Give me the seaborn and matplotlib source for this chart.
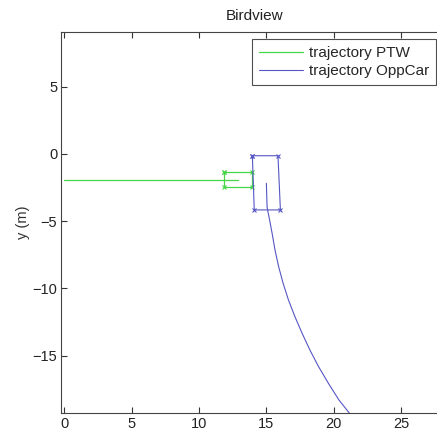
import matplotlib
matplotlib.use("Agg")
import matplotlib.pyplot as plt
import seaborn as sns
import pandas as pd

# Data
ptw_x = [0.0, 12.9]
ptw_y = [-1.93, -1.93]
ptw_box_x = [11.83, 13.93, 13.93, 11.83, 11.83]
ptw_box_y = [-1.36, -1.36, -2.43, -2.43, -1.36]

opp_x = [15.0, 15.05, 15.09, 15.24, 15.42, 15.64, 15.91, 16.24, 16.64,
         17.12, 17.64, 18.24, 18.87, 19.6, 20.38, 21.15, 21.55]
opp_y = [-2.18, -3.9, -4.16, -4.91, -5.87, -7.14, -8.38, -9.61, -10.86,
         -12.1, -13.31, -14.6, -15.81, -17.05, -18.29, -19.26, -19.8]
opp_box_x = [13.96, 15.86, 16.04, 14.10, 13.96]
opp_box_y = [-0.13, -0.13, -4.16, -4.16, -0.13]

x_ticks = [0, 5, 10, 15, 20, 25]
y_ticks = [-15, -10, -5, 0, 5]

GREEN = "#45d645"
BLUE = "#5656c4"

sns.set_theme(style="white")
plt.rcParams["font.family"] = ["Liberation Sans", "DejaVu Sans"]

fig = plt.figure(figsize=(4.37, 4.34), dpi=100)
ax_l, ax_r, ax_t, ax_b = 61.5, 447.0, 32.0, 413.0
ax = fig.add_axes([ax_l / 437, (434 - ax_b) / 434, (ax_r - ax_l) / 437, (ax_b - ax_t) / 434])

df_ptw = pd.DataFrame({"x": ptw_x, "y": ptw_y})
df_opp = pd.DataFrame({"x": opp_x, "y": opp_y})
sns.lineplot(data=df_ptw, x="x", y="y", sort=False, color=GREEN, lw=0.9,
             ax=ax, label="trajectory PTW")
sns.lineplot(data=df_opp, x="x", y="y", sort=False, color=BLUE, lw=0.8,
             ax=ax, label="trajectory OppCar")

ax.plot(ptw_box_x, ptw_box_y, color=GREEN, lw=0.9, marker="x", ms=3, mew=0.8)
ax.plot(opp_box_x, opp_box_y, color=BLUE, lw=0.8, marker="x", ms=3, mew=0.8)

ax.set_xlim(-0.2, 28.4)
ax.set_ylim(-19.26, 9.07)
ax.set_xticks(x_ticks)
ax.set_yticks(y_ticks)
ax.set_xticklabels([str(t) for t in x_ticks])
ax.set_yticklabels([f"\u2212{abs(t)}" if t < 0 else str(t) for t in y_ticks])
ax.tick_params(direction="in", length=4, width=0.8, color="#333333",
               labelsize=10.5, top=True, right=True, bottom=True, left=True,
               labelcolor="#222222", pad=3)
for s in ax.spines.values():
    s.set_color("#444444")
    s.set_linewidth(0.8)

ax.set_xlabel("")
ax.set_ylabel("y (m)", fontsize=10.5, color="#333333", labelpad=2)
ax.set_title("Birdview", fontsize=11, color="#222222", pad=9)

leg_x = (252 - ax_l) / (ax_r - ax_l)
leg_y = (ax_b - 39) / (ax_b - ax_t)
leg = ax.legend(loc="upper left", bbox_to_anchor=(leg_x, leg_y), borderaxespad=0,
                fontsize=11, frameon=True, fancybox=False,
                edgecolor="#222222", handlelength=2.9, borderpad=0.45,
                labelspacing=0.3, handletextpad=0.4)
leg.get_frame().set_linewidth(0.8)

fig.savefig("out.png", dpi=100)
